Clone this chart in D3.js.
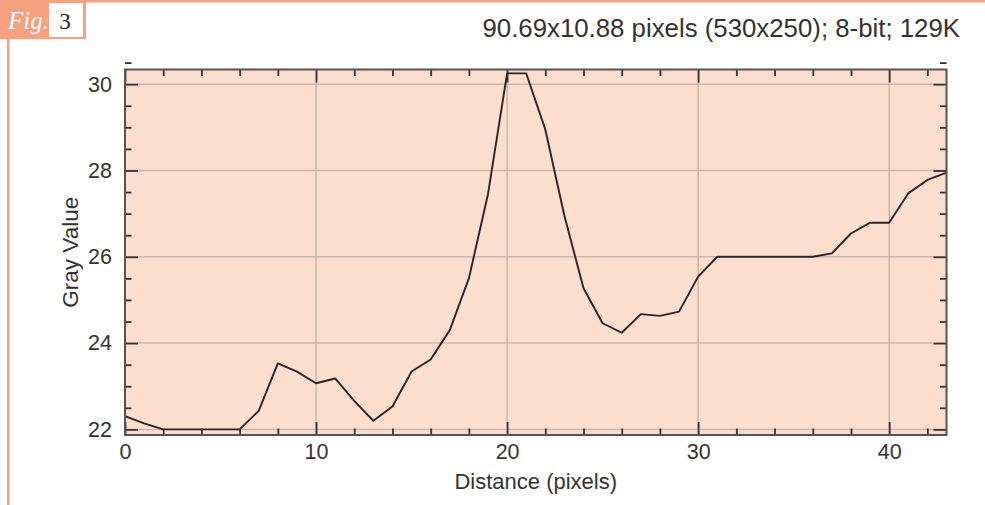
<!DOCTYPE html>
<html>
<head>
<meta charset="utf-8">
<script src="https://cdn.jsdelivr.net/npm/d3@7"></script>
<style>
  html, body { margin: 0; padding: 0; background: #ffffff; }
  svg { display: block; }
</style>
</head>
<body>
<svg id="chart" width="985" height="505"></svg>
<script>
// Profile along the selected line: distance (pixels) vs gray value
const distance = [0, 1, 2, 3, 4, 5, 6, 7, 8, 9, 10, 11, 12, 13, 14, 15, 16, 17, 18, 19, 20, 21,
                  22, 23, 24, 25, 26, 27, 28, 29, 30, 31, 32, 33, 34, 35, 36, 37, 38, 39, 40, 41, 42, 43];
const grayValue = [22.31, 22.14, 22.0, 22.0, 22.0, 22.0, 22.0, 22.43, 23.53, 23.34, 23.07, 23.18,
                   22.66, 22.2, 22.53, 23.34, 23.62, 24.3, 25.5, 27.45, 30.25, 30.25, 28.95, 26.95,
                   25.27, 24.46, 24.24, 24.67, 24.63, 24.73, 25.54, 26.0, 26.0, 26.0, 26.0, 26.0,
                   26.0, 26.08, 26.54, 26.79, 26.79, 27.47, 27.78, 27.95];

const xMajorTicks = [0, 10, 20, 30, 40];
const xMinorTicks = [2, 4, 6, 8, 12, 14, 16, 18, 22, 24, 26, 28, 32, 34, 36, 38, 42];
const yMajorTicks = [22, 24, 26, 28, 30];
const yMinorTicks = [22.5, 23, 23.5, 24.5, 25, 25.5, 26.5, 27, 27.5, 28.5, 29, 29.5, 30.5];

const headerText = "90.69x10.88 pixels (530x250); 8-bit; 129K";
const figLabel = "Fig.";
const figNumber = "3";
const xTitle = "Distance (pixels)";
const yTitle = "Gray Value";

const sans = "'Liberation Sans', Arial, Helvetica, sans-serif";
const serif = "'Liberation Serif', 'DejaVu Serif', serif";

const svg = d3.select("#chart");
const accent = "#f5a07f";

// Figure frame: top rule, left rule and the "Fig. 3" tab
svg.append("rect").attr("x", 0).attr("y", 0).attr("width", 985).attr("height", 2.5).attr("fill", accent);
svg.append("rect").attr("x", 7).attr("y", 0).attr("width", 2.5).attr("height", 505).attr("fill", accent);
svg.append("rect").attr("x", 0).attr("y", 0).attr("width", 86).attr("height", 39).attr("fill", accent);
svg.append("rect").attr("x", 49).attr("y", 3).attr("width", 34).attr("height", 34).attr("fill", "#ffffff");
svg.append("text").attr("x", 8).attr("y", 29)
  .style("font-family", serif).style("font-style", "italic")
  .style("font-size", "25px").attr("fill", "#ffffff")
  .text(figLabel);
svg.append("text").attr("x", 65).attr("y", 29).attr("text-anchor", "middle")
  .style("font-family", serif).style("font-size", "23px").attr("fill", "#222")
  .text(figNumber);

// Header line
svg.append("text").attr("x", 960).attr("y", 37).attr("text-anchor", "end")
  .style("font-family", sans).style("font-size", "25.8px").attr("fill", "#333")
  .text(headerText);

// Plot area
const plot = { left: 125, top: 69.5, right: 946.5, bottom: 435 };
const x = d3.scaleLinear().domain([0, 43]).range([plot.left, plot.right]);
const y = d3.scaleLinear().domain([21.87, 30.34]).range([plot.bottom, plot.top]);

svg.append("rect")
  .attr("x", plot.left).attr("y", plot.top)
  .attr("width", plot.right - plot.left).attr("height", plot.bottom - plot.top)
  .attr("fill", "#fcdecf");

// Grid at major ticks
const grid = svg.append("g").attr("stroke", "#cbb6ab").attr("stroke-width", 1.5);
grid.selectAll("line.gx").data(xMajorTicks).join("line")
  .attr("x1", d => x(d)).attr("x2", d => x(d))
  .attr("y1", plot.top).attr("y2", plot.bottom);
grid.selectAll("line.gy").data(yMajorTicks).join("line")
  .attr("x1", plot.left).attr("x2", plot.right)
  .attr("y1", d => y(d)).attr("y2", d => y(d));

// Profile line
const line = d3.line()
  .x((d, i) => x(distance[i]))
  .y(d => y(d));
svg.append("path")
  .datum(grayValue)
  .attr("fill", "none")
  .attr("stroke", "#262626")
  .attr("stroke-width", 1.9)
  .attr("stroke-linejoin", "round")
  .attr("d", line);

// Axes: inward ticks on all four sides, labels on bottom and left
const major = 13, minor = 6.5;
function styleAxis(g) {
  g.select(".domain").remove();
  g.selectAll(".tick line").attr("stroke", "#333").attr("stroke-width", 1.8);
  g.selectAll(".tick text").attr("fill", "#333")
    .style("font-size", "21.5px").style("font-family", sans);
}

svg.append("g").attr("transform", `translate(0,${plot.bottom})`)
  .call(d3.axisBottom(x).tickValues(xMajorTicks).tickSize(-major).tickPadding(9).tickFormat(d3.format("d")))
  .call(styleAxis);
svg.append("g").attr("transform", `translate(0,${plot.bottom})`)
  .call(d3.axisBottom(x).tickValues(xMinorTicks).tickSize(-minor).tickFormat(""))
  .call(styleAxis);
svg.append("g").attr("transform", `translate(0,${plot.top})`)
  .call(d3.axisTop(x).tickValues(xMajorTicks).tickSize(-major).tickFormat(""))
  .call(styleAxis);
svg.append("g").attr("transform", `translate(0,${plot.top})`)
  .call(d3.axisTop(x).tickValues(xMinorTicks).tickSize(-minor).tickFormat(""))
  .call(styleAxis);

svg.append("g").attr("transform", `translate(${plot.left},0)`)
  .call(d3.axisLeft(y).tickValues(yMajorTicks).tickSize(-major).tickPadding(13).tickFormat(d3.format("d")))
  .call(styleAxis);
svg.append("g").attr("transform", `translate(${plot.left},0)`)
  .call(d3.axisLeft(y).tickValues(yMinorTicks).tickSize(-minor).tickFormat(""))
  .call(styleAxis);
svg.append("g").attr("transform", `translate(${plot.right},0)`)
  .call(d3.axisRight(y).tickValues(yMajorTicks).tickSize(-major).tickFormat(""))
  .call(styleAxis);
svg.append("g").attr("transform", `translate(${plot.right},0)`)
  .call(d3.axisRight(y).tickValues(yMinorTicks).tickSize(-minor).tickFormat(""))
  .call(styleAxis);

// Plot frame
svg.append("rect")
  .attr("x", plot.left).attr("y", plot.top)
  .attr("width", plot.right - plot.left).attr("height", plot.bottom - plot.top)
  .attr("fill", "none").attr("stroke", "#555").attr("stroke-width", 2);

// Axis titles
svg.append("text")
  .attr("x", (plot.left + plot.right) / 2).attr("y", 489)
  .attr("text-anchor", "middle")
  .style("font-family", sans).style("font-size", "22px").attr("fill", "#333")
  .text(xTitle);
svg.append("text")
  .attr("transform", `translate(78,${(plot.top + plot.bottom) / 2}) rotate(-90)`)
  .attr("text-anchor", "middle")
  .style("font-family", sans).style("font-size", "22.5px").attr("fill", "#333")
  .text(yTitle);
</script>
</body>
</html>
